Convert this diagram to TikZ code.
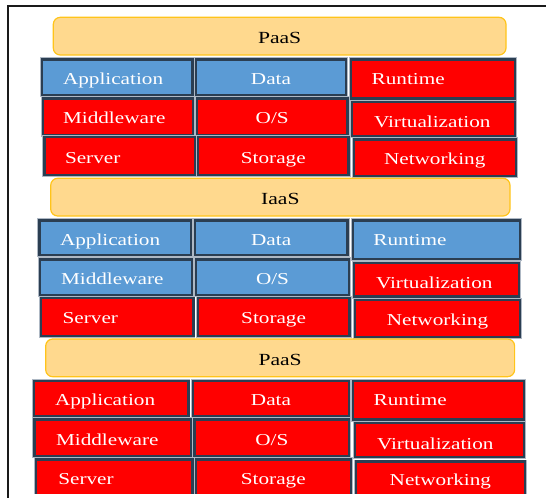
\documentclass[tikz,border=0pt]{standalone}
\usepackage{fontspec}
\newfontfamily\cellfont[FakeStretch=1.27]{Liberation Serif}
\definecolor{cellblue}{HTML}{5B9BD5}
\definecolor{cellred}{HTML}{FF0000}
\definecolor{cellline}{HTML}{2B3E52}
\definecolor{cellgap}{HTML}{AEB8C4}
\definecolor{barfill}{HTML}{FFD98E}
\definecolor{barline}{HTML}{FFC41A}
\definecolor{framecol}{HTML}{1A1A1A}
\tikzset{
  cell/.style={rectangle, inner sep=0pt, outer sep=0pt, draw=cellline, line width=2.4pt,
    preaction={draw=cellgap, line width=4.2pt}},
  bar/.style={rectangle, rounded corners=7pt, inner sep=0pt, outer sep=0pt, draw=barline,
    line width=1.2pt, fill=barfill, text=black, text height=15.5pt, text depth=0pt,
    font=\cellfont\fontsize{17}{18}\selectfont},
  ctext/.style={inner sep=0pt, outer sep=0pt, text=white, font=\cellfont\fontsize{16.7}{18}\selectfont},
  framestyle/.style={draw=framecol, line width=1.6pt},
}
\newcommand\mkcell[6]{\node[cell, fill=#6, anchor=north west,
  minimum width={(#4-#2-2)*1pt}, minimum height={(#5-#3-2)*1pt}] (#1) at (#2+1,#3+1) {};}
\newcommand\mkbar[6]{\node[bar, anchor=north west,
  minimum width={(#4-#2)*1pt}, minimum height={(#5-#3)*1pt}] (#1) at (#2,#3) {#6};}
\newcommand\celltextL[4]{\node[ctext, anchor=base west] (#1) at (#2,#3) {#4};}
\newcommand\celltextC[4]{\node[ctext, anchor=base] (#1) at (#2,#3) {#4};}
\begin{document}
\begin{tikzpicture}[x=1pt, y=-1pt]
\useasboundingbox (0,0) rectangle (546,498);
\begin{scope}
\clip (0,0) rectangle (546,493.3);
% ---------- section 1 ----------
\mkbar{barA}{53.3}{17.3}{506}{55}{PaaS}
\mkcell{aApp}{41}{58.3}{193.3}{95.7}{cellblue}
\mkcell{aDat}{195}{58.3}{347}{95.7}{cellblue}
\mkcell{aRun}{350}{58.3}{516}{99.3}{cellred}
\mkcell{aMid}{41.7}{97.3}{194}{135.7}{cellred}
\mkcell{aOS}{196}{97.3}{348.5}{135.7}{cellred}
\mkcell{aVir}{351}{100.7}{516}{136.7}{cellred}
\mkcell{aSer}{43.3}{136}{195.7}{175.7}{cellred}
\mkcell{aSto}{197}{136}{349.6}{175.7}{cellred}
\mkcell{aNet}{352.7}{138.3}{516.7}{176.7}{cellred}
\celltextL{aAppT}{63}{84.5}{Application}
\celltextC{aDatT}{271}{84.5}{Data}
\celltextL{aRunT}{371.7}{84.5}{Runtime}
\celltextL{aMidT}{63}{123.8}{Middleware}
\celltextC{aOST}{272.2}{123.8}{O/S}
\celltextL{aVirT}{374}{127.8}{Virtualization}
\celltextL{aSerT}{65}{163.2}{Server}
\celltextC{aStoT}{273.3}{163.2}{Storage}
\celltextC{aNetT}{434.7}{164.5}{Networking}
% ---------- section 2 ----------
\mkbar{barB}{50.7}{178.3}{510}{216}{IaaS}
\mkcell{bApp}{38.3}{219.3}{191.7}{256}{cellblue}
\mkcell{bDat}{194}{219.3}{348.5}{256}{cellblue}
\mkcell{bRun}{351.7}{219.3}{521}{260}{cellblue}
\mkcell{bMid}{39}{258.3}{192.7}{296}{cellblue}
\mkcell{bOS}{195}{258.3}{350}{296}{cellblue}
\mkcell{bVir}{353}{262}{520}{297.5}{cellred}
\mkcell{bSer}{40}{296.7}{194.3}{336.7}{cellred}
\mkcell{bSto}{196.7}{296.7}{350.6}{336.7}{cellred}
\mkcell{bNet}{354}{299}{521}{337.7}{cellred}
\celltextL{bAppT}{60}{245.5}{Application}
\celltextC{bDatT}{271.2}{245.5}{Data}
\celltextL{bRunT}{373.4}{245.5}{Runtime}
\celltextL{bMidT}{61}{284.5}{Middleware}
\celltextC{bOST}{272.5}{284.5}{O/S}
\celltextL{bVirT}{376}{288.5}{Virtualization}
\celltextL{bSerT}{62.7}{323.8}{Server}
\celltextC{bStoT}{273.6}{323.8}{Storage}
\celltextC{bNetT}{437.5}{325.1}{Networking}
% ---------- section 3 ----------
\mkbar{barC}{45.7}{339}{514.6}{376.7}{PaaS}
\mkcell{cApp}{32.7}{380}{189.3}{416.7}{cellred}
\mkcell{cDat}{192}{380}{350}{416.7}{cellred}
\mkcell{cRun}{352}{380}{524.7}{420.5}{cellred}
\mkcell{cMid}{33.3}{418.3}{191.7}{456.7}{cellred}
\mkcell{cOS}{193.6}{418.3}{350}{456.7}{cellred}
\mkcell{cVir}{354}{421.7}{525}{458}{cellred}
\mkcell{cSer}{35}{458.3}{193.3}{500}{cellred}
\mkcell{cSto}{195}{458.3}{351.7}{500}{cellred}
\mkcell{cNet}{355}{460.6}{525.8}{502}{cellred}
\celltextL{cAppT}{55}{405.5}{Application}
\celltextC{cDatT}{271}{405.5}{Data}
\celltextL{cRunT}{373.7}{405.5}{Runtime}
\celltextL{cMidT}{56}{445.5}{Middleware}
\celltextC{cOST}{271.8}{445.5}{O/S}
\celltextL{cVirT}{377}{449.5}{Virtualization}
\celltextL{cSerT}{58.3}{484.5}{Server}
\celltextC{cStoT}{273.3}{484.5}{Storage}
\celltextC{cNetT}{440.4}{485.8}{Networking}
\end{scope}
% frame
\coordinate (frTR) at (546,6);
\coordinate (frTL) at (8,6);
\coordinate (frBL) at (8,498);
\draw[framestyle] (frTR) -- (frTL) -- (frBL);
\end{tikzpicture}
\end{document}
